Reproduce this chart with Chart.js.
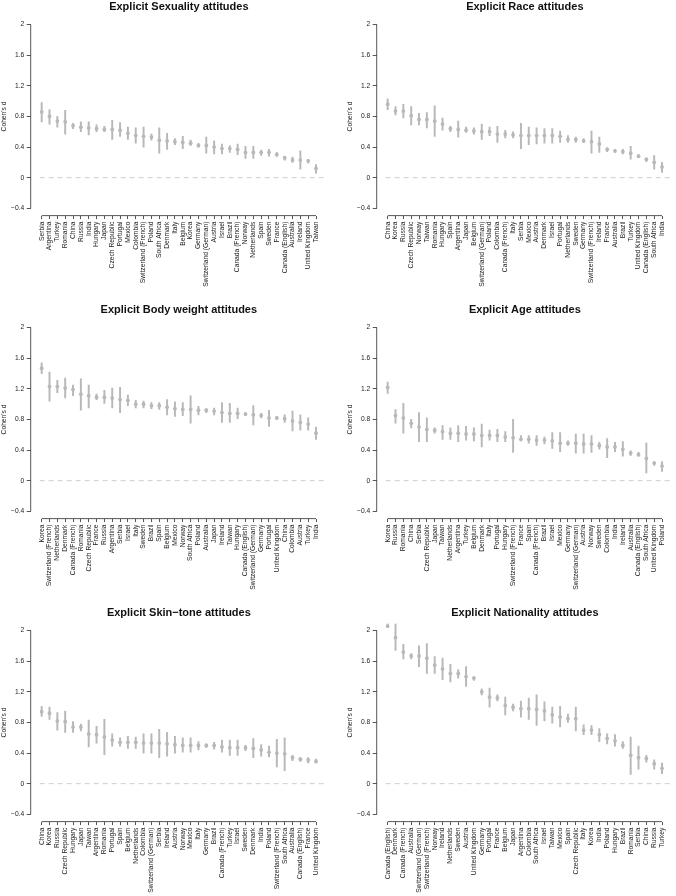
<!DOCTYPE html>
<html>
<head>
<meta charset="utf-8">
<script src="https://cdn.jsdelivr.net/npm/chart.js@4.4.0/dist/chart.umd.min.js"></script>
<style>
  html, body { margin: 0; padding: 0; background: #fff; overflow: hidden; }
  .panel { position: absolute; width: 331px; height: 303px; }
</style>
</head>
<body>
<div class="panel" style="left:0;top:0"><canvas id="sexChart" width="331" height="303"></canvas></div>
<div class="panel" style="left:346px;top:0"><canvas id="raceChart" width="331" height="303"></canvas></div>
<div class="panel" style="left:0;top:303px"><canvas id="bodyChart" width="331" height="303"></canvas></div>
<div class="panel" style="left:346px;top:303px"><canvas id="ageChart" width="331" height="303"></canvas></div>
<div class="panel" style="left:0;top:606px"><canvas id="skinChart" width="331" height="303"></canvas></div>
<div class="panel" style="left:346px;top:606px"><canvas id="natChart" width="331" height="303"></canvas></div>
<script>
const Y_TICKS = [-0.4, 0, 0.4, 0.8, 1.2, 1.6, 2];

const SEX_COUNTRIES = ["Serbia", "Argentina", "Turkey", "Romania", "China", "Russia", "India", "Hungary", "Japan", "Czech Republic", "Portugal", "Mexico", "Colombia", "Switzerland (French)", "Poland", "South Africa", "Denmark", "Italy", "Belgium", "Korea", "Germany", "Switzerland (German)", "Austria", "Israel", "Brazil", "Canada (French)", "Norway", "Netherlands", "Spain", "Sweden", "France", "Canada (English)", "Australia", "Ireland", "United Kingdom", "Taiwan"];
const SEX_D = [0.86, 0.80, 0.74, 0.73, 0.68, 0.66, 0.65, 0.64, 0.63, 0.63, 0.62, 0.58, 0.55, 0.54, 0.53, 0.49, 0.48, 0.47, 0.46, 0.45, 0.42, 0.42, 0.40, 0.38, 0.38, 0.37, 0.33, 0.33, 0.33, 0.33, 0.30, 0.26, 0.23, 0.23, 0.22, 0.12];
const SEX_LO = [0.73, 0.70, 0.66, 0.57, 0.64, 0.60, 0.56, 0.60, 0.60, 0.50, 0.54, 0.50, 0.45, 0.40, 0.49, 0.32, 0.37, 0.43, 0.38, 0.42, 0.40, 0.32, 0.31, 0.31, 0.33, 0.30, 0.25, 0.25, 0.29, 0.28, 0.28, 0.23, 0.20, 0.11, 0.19, 0.06];
const SEX_HI = [0.98, 0.89, 0.80, 0.88, 0.71, 0.73, 0.73, 0.69, 0.67, 0.75, 0.72, 0.66, 0.65, 0.66, 0.57, 0.65, 0.58, 0.51, 0.54, 0.49, 0.45, 0.53, 0.48, 0.44, 0.42, 0.44, 0.41, 0.41, 0.36, 0.37, 0.33, 0.28, 0.27, 0.35, 0.24, 0.17];

const RACE_COUNTRIES = ["China", "Korea", "Russia", "Czech Republic", "Norway", "Taiwan", "Romania", "Hungary", "Spain", "Argentina", "Japan", "Belgium", "Switzerland (German)", "Poland", "Colombia", "Canada (French)", "Italy", "Serbia", "Mexico", "Austria", "Denmark", "Israel", "Portugal", "Netherlands", "Sweden", "Germany", "Switzerland (French)", "Ireland", "France", "Australia", "Brazil", "Turkey", "United Kingdom", "Canada (English)", "South Africa", "India"];
const RACE_D = [0.96, 0.87, 0.87, 0.81, 0.76, 0.76, 0.74, 0.70, 0.64, 0.63, 0.62, 0.61, 0.60, 0.60, 0.57, 0.57, 0.56, 0.55, 0.55, 0.55, 0.55, 0.55, 0.54, 0.50, 0.50, 0.48, 0.47, 0.44, 0.37, 0.35, 0.34, 0.32, 0.28, 0.24, 0.20, 0.14];
const RACE_LO = [0.89, 0.82, 0.78, 0.69, 0.69, 0.65, 0.54, 0.62, 0.60, 0.53, 0.59, 0.57, 0.50, 0.55, 0.46, 0.52, 0.52, 0.38, 0.43, 0.44, 0.45, 0.45, 0.46, 0.46, 0.46, 0.46, 0.32, 0.33, 0.34, 0.33, 0.31, 0.24, 0.26, 0.21, 0.11, 0.07];
const RACE_HI = [1.03, 0.93, 0.96, 0.93, 0.84, 0.85, 0.94, 0.78, 0.67, 0.74, 0.66, 0.65, 0.70, 0.66, 0.67, 0.62, 0.60, 0.71, 0.66, 0.65, 0.64, 0.64, 0.61, 0.55, 0.53, 0.51, 0.61, 0.53, 0.39, 0.37, 0.37, 0.41, 0.30, 0.26, 0.29, 0.20];

const BODY_COUNTRIES = ["Korea", "Switzerland (French)", "Netherlands", "Denmark", "Canada (French)", "Romania", "Czech Republic", "France", "Russia", "Argentina", "Serbia", "Israel", "Italy", "Sweden", "Brazil", "Spain", "Belgium", "Mexico", "Norway", "South Africa", "Poland", "Australia", "Japan", "Ireland", "Taiwan", "Hungary", "Canada (English)", "Switzerland (German)", "Germany", "Portugal", "United Kingdom", "China", "Colombia", "Austria", "Turkey", "India"];
const BODY_D = [1.47, 1.23, 1.23, 1.21, 1.19, 1.13, 1.11, 1.09, 1.09, 1.08, 1.06, 1.05, 1.00, 1.00, 0.98, 0.98, 0.96, 0.94, 0.93, 0.93, 0.92, 0.92, 0.91, 0.89, 0.88, 0.88, 0.87, 0.86, 0.85, 0.82, 0.82, 0.81, 0.78, 0.76, 0.74, 0.62];
const BODY_LO = [1.40, 1.04, 1.15, 1.08, 1.11, 0.92, 0.95, 1.06, 1.01, 0.95, 0.89, 0.98, 0.95, 0.95, 0.94, 0.93, 0.86, 0.84, 0.85, 0.75, 0.86, 0.89, 0.86, 0.76, 0.76, 0.81, 0.85, 0.73, 0.82, 0.71, 0.80, 0.76, 0.65, 0.66, 0.66, 0.54];
const BODY_HI = [1.54, 1.42, 1.31, 1.34, 1.25, 1.33, 1.25, 1.13, 1.18, 1.21, 1.22, 1.12, 1.05, 1.04, 1.02, 1.02, 1.06, 1.03, 1.02, 1.11, 0.97, 0.94, 0.95, 1.02, 1.01, 0.95, 0.89, 0.98, 0.88, 0.92, 0.84, 0.86, 0.91, 0.86, 0.82, 0.70];

const AGE_COUNTRIES = ["Korea", "Russia", "Romania", "China", "Serbia", "Czech Republic", "Japan", "Taiwan", "Netherlands", "Argentina", "Turkey", "Belgium", "Denmark", "Italy", "Portugal", "Hungary", "Switzerland (French)", "France", "Spain", "Canada (French)", "Brazil", "Israel", "Mexico", "Germany", "Switzerland (German)", "Austria", "Norway", "Sweden", "Colombia", "India", "Ireland", "Australia", "Canada (English)", "South Africa", "United Kingdom", "Poland"];
const AGE_D = [1.22, 0.85, 0.82, 0.75, 0.70, 0.67, 0.66, 0.64, 0.62, 0.62, 0.61, 0.61, 0.59, 0.59, 0.59, 0.57, 0.56, 0.54, 0.54, 0.53, 0.53, 0.52, 0.49, 0.49, 0.49, 0.48, 0.48, 0.46, 0.44, 0.44, 0.41, 0.36, 0.34, 0.29, 0.23, 0.19];
const AGE_LO = [1.14, 0.75, 0.62, 0.69, 0.51, 0.51, 0.62, 0.54, 0.54, 0.51, 0.53, 0.52, 0.44, 0.53, 0.51, 0.51, 0.37, 0.52, 0.49, 0.46, 0.48, 0.42, 0.38, 0.46, 0.36, 0.36, 0.37, 0.41, 0.30, 0.38, 0.32, 0.33, 0.32, 0.10, 0.20, 0.12];
const AGE_HI = [1.29, 0.93, 1.01, 0.80, 0.89, 0.82, 0.69, 0.72, 0.69, 0.72, 0.71, 0.69, 0.74, 0.66, 0.67, 0.64, 0.80, 0.59, 0.59, 0.59, 0.57, 0.63, 0.63, 0.52, 0.61, 0.61, 0.59, 0.50, 0.55, 0.50, 0.51, 0.39, 0.37, 0.49, 0.25, 0.25];

const SKIN_COUNTRIES = ["China", "Korea", "Russia", "Czech Republic", "Hungary", "Japan", "Taiwan", "Argentina", "Romania", "Portugal", "Spain", "Belgium", "Netherlands", "Colombia", "Switzerland (German)", "Serbia", "Ireland", "Austria", "Norway", "Mexico", "Italy", "Germany", "Brazil", "Canada (French)", "Turkey", "Israel", "Sweden", "Denmark", "India", "Poland", "Switzerland (French)", "South Africa", "Australia", "Canada (English)", "France", "United Kingdom"];
const SKIN_D = [0.94, 0.92, 0.82, 0.81, 0.74, 0.74, 0.65, 0.64, 0.61, 0.57, 0.54, 0.54, 0.54, 0.53, 0.53, 0.53, 0.52, 0.51, 0.50, 0.50, 0.50, 0.50, 0.50, 0.48, 0.47, 0.47, 0.47, 0.46, 0.44, 0.41, 0.40, 0.39, 0.34, 0.32, 0.31, 0.29];
const SKIN_LO = [0.88, 0.84, 0.70, 0.67, 0.67, 0.69, 0.48, 0.53, 0.38, 0.49, 0.49, 0.46, 0.46, 0.40, 0.40, 0.34, 0.36, 0.40, 0.41, 0.41, 0.44, 0.47, 0.45, 0.41, 0.37, 0.37, 0.43, 0.34, 0.36, 0.35, 0.22, 0.17, 0.30, 0.29, 0.27, 0.27];
const SKIN_HI = [1.01, 1.00, 0.93, 0.95, 0.81, 0.78, 0.83, 0.75, 0.84, 0.65, 0.60, 0.62, 0.61, 0.65, 0.65, 0.71, 0.67, 0.62, 0.60, 0.60, 0.55, 0.52, 0.54, 0.57, 0.57, 0.57, 0.50, 0.59, 0.51, 0.49, 0.58, 0.60, 0.37, 0.34, 0.34, 0.32];

const NAT_COUNTRIES = ["Canada (English)", "Denmark", "Canada (French)", "Australia", "Switzerland (German)", "Switzerland (French)", "Norway", "Ireland", "Netherlands", "Sweden", "Austria", "United Kingdom", "Germany", "Portugal", "France", "Belgium", "Japan", "Argentina", "Colombia", "South Africa", "Israel", "Taiwan", "Mexico", "Spain", "Czech Republic", "Italy", "Korea", "India", "Poland", "Hungary", "Brazil", "Romania", "Serbia", "China", "Russia", "Turkey"];
const NAT_D = [2.06, 1.91, 1.72, 1.67, 1.67, 1.64, 1.55, 1.50, 1.44, 1.44, 1.40, 1.38, 1.20, 1.13, 1.12, 1.02, 1.00, 0.98, 0.98, 0.97, 0.95, 0.90, 0.87, 0.85, 0.85, 0.70, 0.70, 0.64, 0.59, 0.56, 0.50, 0.37, 0.34, 0.33, 0.26, 0.20];
const NAT_LO = [2.04, 1.74, 1.63, 1.63, 1.53, 1.44, 1.44, 1.36, 1.33, 1.38, 1.27, 1.35, 1.16, 1.00, 1.08, 0.90, 0.95, 0.87, 0.84, 0.76, 0.82, 0.79, 0.74, 0.80, 0.69, 0.64, 0.64, 0.55, 0.52, 0.49, 0.46, 0.12, 0.19, 0.28, 0.19, 0.13];
const NAT_HI = [2.09, 2.09, 1.82, 1.70, 1.80, 1.83, 1.66, 1.64, 1.56, 1.49, 1.53, 1.40, 1.24, 1.25, 1.16, 1.13, 1.04, 1.08, 1.12, 1.16, 1.07, 1.00, 1.01, 0.91, 1.00, 0.77, 0.76, 0.72, 0.65, 0.64, 0.55, 0.61, 0.49, 0.37, 0.31, 0.27];

const FONT = "'Liberation Sans', Arial, Helvetica, sans-serif";
const MARK = "#b8b8b8";
const AXIS = "#444";
const TEXT = "#222";

// R-style axes: lines only span first..last tick, dashed line at 0
const rAxes = {
  id: "rAxes",
  beforeDatasetsDraw(chart) {
    const { ctx, chartArea, scales } = chart;
    const x = scales.x;
    const y = scales.y;
    const n = chart.data.datasets[0].data.length;
    ctx.save();
    const y0 = y.getPixelForValue(0);
    ctx.strokeStyle = "#cfcfcf";
    ctx.lineWidth = 1;
    ctx.setLineDash([5, 4]);
    ctx.beginPath();
    ctx.moveTo(chartArea.left + 9, y0);
    ctx.lineTo(chartArea.right - 2, y0);
    ctx.stroke();
    ctx.setLineDash([]);
    ctx.strokeStyle = AXIS;
    ctx.lineWidth = 0.9;
    ctx.beginPath();
    ctx.moveTo(chartArea.left, y.getPixelForValue(Y_TICKS[0]));
    ctx.lineTo(chartArea.left, y.getPixelForValue(Y_TICKS[Y_TICKS.length - 1]));
    ctx.moveTo(x.getPixelForValue(1), chartArea.bottom);
    ctx.lineTo(x.getPixelForValue(n), chartArea.bottom);
    ctx.stroke();
    ctx.restore();
  },
};

function makePanel(id, title, countries, d, lo, hi) {
  const canvas = document.getElementById(id);
  if (!canvas) {
    return null;
  }
  const n = countries.length;
  return new Chart(canvas, {
    type: "scatter",
    data: {
      datasets: [
        {
          type: "scatter",
          data: d.map((v, i) => ({ x: i + 1, y: v })),
          pointRadius: 1.9,
          pointBackgroundColor: MARK,
          pointBorderWidth: 0,
          order: 0,
        },
        {
          type: "bar",
          data: lo.map((v, i) => ({ x: i + 1, y: [v, hi[i]] })),
          backgroundColor: MARK,
          borderWidth: 0,
          barThickness: 1.3,
          order: 1,
        },
      ],
    },
    options: {
      responsive: false,
      animation: false,
      layout: { padding: { left: 0, right: 0.6, top: 0, bottom: 0 } },
      plugins: {
        legend: { display: false },
        tooltip: { enabled: false },
        title: {
          display: true,
          text: title,
          color: "#111",
          fullSize: false,
          font: { family: FONT, size: 11, weight: "bold", lineHeight: 1 },
          padding: { top: 1, bottom: 5.3 },
        },
      },
      scales: {
        x: {
          type: "linear",
          min: -0.4,
          max: n + 1.4,
          offset: false,
          border: { display: false },
          grid: { drawOnChartArea: false, drawTicks: true, tickLength: 3.5, tickColor: AXIS, tickWidth: 0.9, offset: false },
          ticks: {
            autoSkip: false,
            minRotation: 90,
            maxRotation: 90,
            padding: 2.5,
            color: TEXT,
            font: { family: FONT, size: 6.7 },
            callback: (v) => countries[v - 1] || "",
          },
          afterBuildTicks: (s) => {
            s.ticks = countries.map((_, i) => ({ value: i + 1 }));
          },
          afterFit: (s) => {
            s.height = 87.4;
          },
        },
        y: {
          type: "linear",
          min: -0.496,
          max: 2.096,
          border: { display: false },
          grid: { drawOnChartArea: false, drawTicks: true, tickLength: 4, tickColor: AXIS, tickWidth: 0.9 },
          ticks: {
            padding: 2.5,
            color: TEXT,
            font: { family: FONT, size: 6.7 },
            callback: (v) => (v < 0 ? "\u2212" + Math.abs(v) : String(v)),
          },
          title: {
            display: true,
            text: "Cohen's d",
            color: TEXT,
            padding: 0,
            font: { family: FONT, size: 6.7 },
          },
          afterBuildTicks: (s) => {
            s.ticks = Y_TICKS.map((v) => ({ value: v }));
          },
          afterFit: (s) => {
            s.width = 30.7;
          },
        },
      },
    },
    plugins: [rAxes],
  });
}

makePanel("sexChart", "Explicit Sexuality attitudes", SEX_COUNTRIES, SEX_D, SEX_LO, SEX_HI);
makePanel("raceChart", "Explicit Race attitudes", RACE_COUNTRIES, RACE_D, RACE_LO, RACE_HI);
makePanel("bodyChart", "Explicit Body weight attitudes", BODY_COUNTRIES, BODY_D, BODY_LO, BODY_HI);
makePanel("ageChart", "Explicit Age attitudes", AGE_COUNTRIES, AGE_D, AGE_LO, AGE_HI);
makePanel("skinChart", "Explicit Skin\u2212tone attitudes", SKIN_COUNTRIES, SKIN_D, SKIN_LO, SKIN_HI);
makePanel("natChart", "Explicit Nationality attitudes", NAT_COUNTRIES, NAT_D, NAT_LO, NAT_HI);
</script>
</body>
</html>
